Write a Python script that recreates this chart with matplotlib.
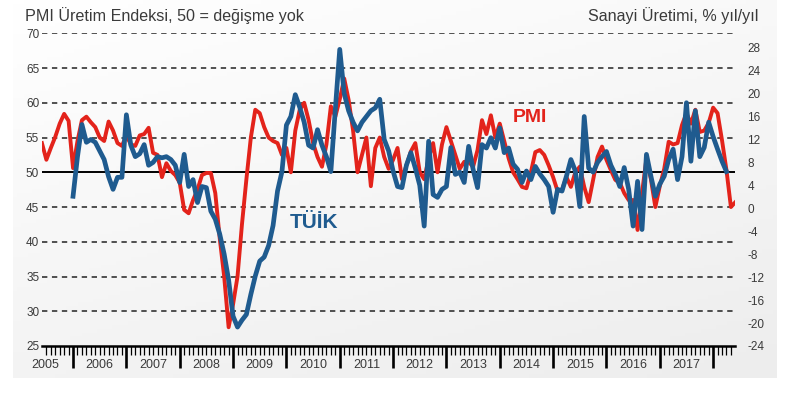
import numpy as np
import pandas as pd
import matplotlib

matplotlib.use("Agg")
import matplotlib.pyplot as plt
from matplotlib.colors import LinearSegmentedColormap
from matplotlib.ticker import FixedLocator, NullFormatter

plt.rcParams["font.family"] = ["Liberation Sans", "DejaVu Sans"]
plt.rcParams["axes.unicode_minus"] = False

# PMI output index, monthly from Jun 2005 (left axis)
pmi = [
    54.2, 51.8, 53.5, 55.1, 57.0, 58.4, 57.4,
    50.6, 54.5, 57.5, 58.0, 57.2, 56.5, 55.0, 54.5, 57.3, 56.0, 54.2, 53.8,
    55.3, 54.0, 53.8, 55.3, 55.5, 56.4, 52.8, 52.5, 49.3, 51.3, 50.2, 49.6,
    48.5, 44.6, 44.1, 46.0, 47.5, 49.6, 49.9, 49.9, 47.0, 40.5, 35.0, 27.7,
    31.0, 35.0, 42.5, 49.0, 55.0, 59.0, 58.5, 56.5, 55.0, 54.5, 54.2, 52.5,
    53.5, 50.0, 56.0, 59.0, 60.0, 57.5, 54.2, 52.2, 50.8, 54.0, 59.5, 58.0,
    60.5, 63.5, 60.4, 56.0, 50.0, 52.5, 55.0, 48.0, 53.5, 55.0, 52.2, 50.5,
    51.8, 53.5, 49.0, 51.0, 53.0, 54.2, 50.0, 49.0, 52.0, 54.2, 50.0, 54.0,
    56.5, 54.5, 52.5, 50.5, 51.5, 51.5, 50.8, 53.2, 57.5, 55.5, 58.2, 55.0,
    57.0, 54.5, 52.0, 50.0, 49.0, 47.9, 47.7, 50.0, 52.9, 53.2, 52.5, 51.0,
    49.3, 47.3, 47.5, 49.3, 47.9, 50.0, 50.8, 47.9, 45.7, 48.9, 52.2, 53.7,
    51.8, 50.3, 48.9, 48.5, 47.0, 46.0, 46.0, 41.7, 47.0, 52.0, 49.0, 45.0,
    48.0, 50.5, 54.4, 54.0, 54.2, 56.8, 58.5, 57.0, 59.0, 55.8, 56.0, 57.1,
    59.3, 58.5, 54.6, 50.3, 45.0, 45.7,
]

# TUIK industrial production, % y/y, monthly from Jan 2006 (right axis)
tuik = [
    2.1, 9.0, 14.6, 11.5, 12.0, 11.5, 10.0, 8.5, 5.5, 3.3, 5.4, 5.4,
    16.3, 11.0, 9.0, 9.5, 11.1, 7.5, 8.0, 9.0, 8.8, 9.0, 8.5, 7.5,
    4.5, 9.4, 3.8, 5.0, 1.0, 3.8, 3.6, -0.5, -1.9, -4.5, -8.0, -12.5,
    -18.8, -20.7, -19.5, -18.5, -15.0, -11.8, -9.2, -8.5, -6.5, -3.0, 3.0, 6.4,
    14.5, 16.0, 19.8, 17.6, 15.0, 11.0, 10.5, 13.7, 11.0, 9.0, 6.4, 17.2,
    27.7, 20.0, 17.0, 15.0, 13.5, 15.0, 16.0, 17.0, 17.5, 19.0, 12.0, 10.0,
    6.5, 3.8, 3.6, 7.5, 9.7, 7.0, 4.0, -3.1, 11.7, 2.4, 1.9, 3.3,
    3.8, 10.6, 5.9, 6.3, 4.5, 10.8, 6.8, 3.6, 11.1, 10.5, 12.3, 10.5,
    14.0, 9.7, 10.5, 7.7, 6.8, 4.5, 6.5, 5.0, 7.3, 6.0, 5.0, 3.8,
    -0.7, 3.3, 3.0, 5.6, 8.5, 6.5, 0.3, 16.0, 7.0, 6.3, 8.0, 9.0,
    9.9, 7.5, 5.9, 3.8, 7.1, 3.3, -3.1, 4.7, -3.7, 9.4, 5.6, 2.1,
    4.2, 5.6, 8.5, 10.3, 5.0, 9.0, 18.4, 8.2, 17.0, 9.0, 10.6, 15.0,
    12.5, 10.3, 8.2, 6.4,
]

years = list(range(2005, 2018))
left_ticks = [25, 30, 35, 40, 45, 50, 55, 60, 65, 70]
right_ticks = list(range(-24, 29, 4))

RED = "#e3231b"
BLUE = "#1f5b8f"
TXT = "#3a3a3a"


def decimal_months(start, n):
    p = pd.period_range(start, periods=n, freq="M")
    return np.array(p.year + (p.month - 1) / 12.0)


t_pmi = decimal_months("2005-06", len(pmi))
t_tuik = decimal_months("2006-01", len(tuik))

W, H = 791, 393
fig = plt.figure(figsize=(W / 100, H / 100), dpi=100)

# light gradient panel behind the chart
bg = fig.add_axes([13 / W, 1 - 378 / H, 764 / W, 378 / H])
bg.axis("off")
gx, gy = np.meshgrid(np.linspace(0, 1, 200), np.linspace(0, 1, 100))
cmap = LinearSegmentedColormap.from_list("bg", ["#ffffff", "#ededed"])
bg.imshow(0.35 * gx + 0.65 * gy, cmap=cmap, aspect="auto", vmin=0, vmax=1)

ax = fig.add_axes([42 / W, 1 - 346 / H, 693 / W, 312.7 / H])
ax.patch.set_alpha(0)
ax2 = ax.twinx()

ax.set_xlim(2005.418, 2018.41)
ax.set_ylim(25, 70)
ax2.set_ylim(-24, 30.5)

for v in left_ticks:
    if v == 25:
        continue
    if v == 50:
        ax.axhline(v, color="black", lw=1.4, zorder=1)
    else:
        ax.axhline(v, color="#222222", lw=1.1, ls=(0, (3.5, 3)), zorder=1)

ax.plot(t_pmi, pmi, color=RED, lw=2.8, zorder=3)
ax2.plot(t_tuik, tuik, color=BLUE, lw=3.4, zorder=3)

for s in ["top", "left", "right"]:
    ax.spines[s].set_visible(False)
for s in ax2.spines.values():
    s.set_visible(False)
ax.spines["bottom"].set_linewidth(1.8)

ax.set_yticks(left_ticks)
ax.tick_params(axis="y", length=0, pad=2, labelsize=8.5, labelcolor=TXT)
ax2.set_yticks(right_ticks)
ax2.tick_params(axis="y", length=0, pad=9, labelsize=8.5, labelcolor=TXT)

ax.xaxis.set_major_locator(FixedLocator(list(range(2006, 2019))))
months = [y + m / 12 for y in range(2005, 2019) for m in range(1, 12)]
ax.xaxis.set_minor_locator(FixedLocator(months))
ax.xaxis.set_major_formatter(NullFormatter())
ax.tick_params(axis="x", which="major", direction="out", length=16, width=1.9, color="black")
ax.tick_params(axis="x", which="minor", direction="out", length=6.5, width=0.9, color="black")

tr = ax.get_xaxis_transform()
for y in years:
    xc = y + 0.5 if y > 2005 else 2005.474
    ax.text(xc, -0.06, str(y), transform=tr, ha="center", va="center",
            fontsize=9, color=TXT, clip_on=False)

fig.text(25 / W, 1 - 16 / H, "PMI Üretim Endeksi, 50 = değişme yok",
         ha="left", va="center", fontsize=11.6, color=TXT)
fig.text(758 / W, 1 - 16 / H, "Sanayi Üretimi, % yıl/yıl",
         ha="right", va="center", fontsize=11.6, color=TXT)
fig.text(530 / W, 1 - 117 / H, "PMI", ha="center", va="center",
         fontsize=14, fontweight="bold", color=RED)
fig.text(314 / W, 1 - 222 / H, "TÜİK", ha="center", va="center",
         fontsize=15, fontweight="bold", color=BLUE)

fig.savefig("out.png", dpi=100)
